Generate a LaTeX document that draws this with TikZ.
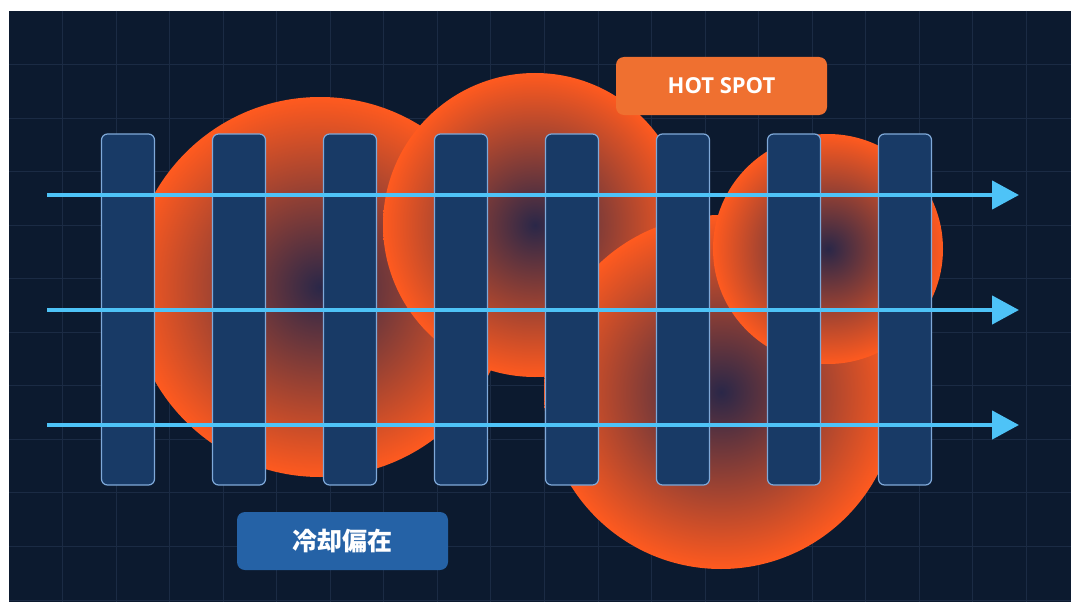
\documentclass[tikz,border=0pt]{standalone}
\usepackage{fontspec}
\usetikzlibrary{arrows.meta}
\newfontfamily\labfont{Open Sans}
\newfontfamily\cjkfont{Noto Sans CJK JP}
\definecolor{bgc}{HTML}{0C1A2F}
\definecolor{gridc}{HTML}{1B2B44}
\definecolor{barfill}{HTML}{183A66}
\definecolor{barline}{HTML}{7FA9D9}
\definecolor{flowc}{HTML}{4EC3F7}
\definecolor{hotc}{HTML}{EF7030}
\definecolor{coolc}{HTML}{2562A6}
\definecolor{hotin}{HTML}{2A2748}
\definecolor{hotout}{HTML}{FF5A1F}
\pgfdeclareradialshading{hotshade}{\pgfpoint{0bp}{0bp}}{color(0bp)=(hotin); color(25bp)=(hotout); color(50bp)=(hotout)}
\tikzset{
  barbox/.style={draw=barline, line width=1.2pt, fill=barfill, rounded corners=6pt, minimum width=53pt, minimum height=351pt, inner sep=0pt},
  flow/.style={draw=flowc, line width=4.5pt, -{Triangle[length=27pt,width=28pt]}},
  hotlabel/.style={fill=hotc, rounded corners=8pt, minimum width=211pt, minimum height=58pt, inner sep=0pt, text=white, font=\labfont\bfseries\fontsize{22}{26}\selectfont},
  coollabel/.style={fill=coolc, rounded corners=8pt, minimum width=211pt, minimum height=58pt, inner sep=0pt, text=white, font=\cjkfont\bfseries\fontsize{25}{29}\selectfont},
  gridline/.style={draw=gridc, line width=1pt}
}
\begin{document}
\begin{tikzpicture}[x=1pt,y=-1pt]
\useasboundingbox (0,0) rectangle (1071,602);
\fill[white] (0,0) rectangle (1071,602);
\fill[bgc] (9,11) rectangle (1071,602);
\foreach \i in {1,...,19} { \draw[gridline] ({9+53.55*\i},11) -- ({9+53.55*\i},602); }
\foreach \j in {1,...,11} { \draw[gridline] (9,{11+53.55*\j}) -- (1071,{11+53.55*\j}); }
% hot spots
\shade[shading=hotshade] (320,287) circle (190);
\shade[shading=hotshade] (535,225) circle (152);
\shade[shading=hotshade] (721,392) circle (177);
\shade[shading=hotshade] (828,249) circle (115);
% bars
\foreach \k in {1,...,8} { \node[barbox] (b\k) at ({128+111*(\k-1)},309.5) {}; }
% flows
\foreach \k/\yy in {1/195,2/310,3/425} {
  \coordinate (s\k) at (47,\yy);
  \coordinate (e\k) at (1019,\yy);
  \draw[flow] (s\k) -- (e\k);
}
% labels
\node[hotlabel] (hot) at (721.5,86) {HOT SPOT};
\node[coollabel] (cool) at (342.5,541) {冷却偏在};
\end{tikzpicture}
\end{document}
